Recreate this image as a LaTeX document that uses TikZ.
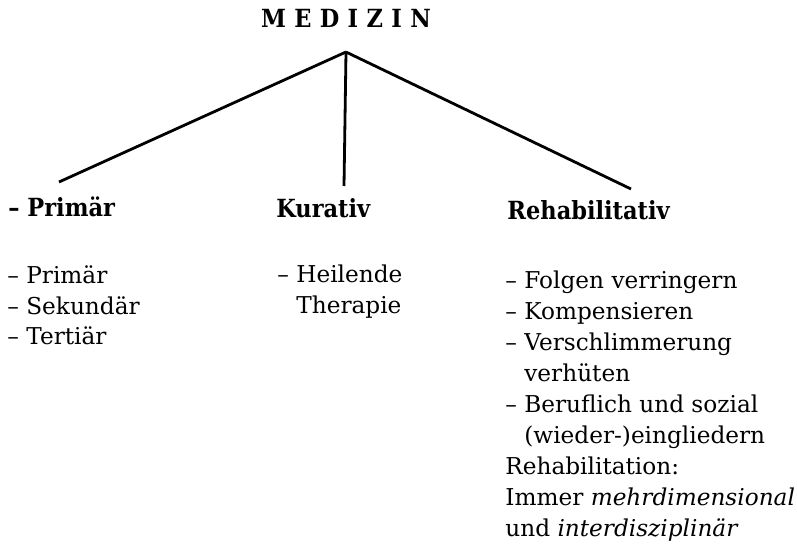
\documentclass[tikz,border=0pt]{standalone}
\usepackage{fontspec}
\setmainfont{DejaVu Serif}
\newfontfamily\headfont{DejaVu Serif Condensed}

\begin{document}
\begin{tikzpicture}[x=0.5pt,y=-0.5pt,
  head/.style={font=\headfont\bfseries\fontsize{12.5}{15}\selectfont,anchor=base west,inner sep=0pt},
  body/.style={font=\fontsize{11.6}{15.5}\selectfont,anchor=base west,inner sep=0pt,align=left},
  branch/.style={line width=1.4pt}]
  \useasboundingbox (0,0) rectangle (797,550);

  \node (medizin) at (346,18) [font=\headfont\bfseries\fontsize{12.5}{14}\selectfont]
    {M\kern4.2pt E\kern4.2pt D\kern4.2pt I\kern4.2pt Z\kern4.2pt I\kern4.2pt N};

  \coordinate (apex) at (346,52);
  \coordinate (endpraev) at (59,182);
  \coordinate (endkur) at (344,186);
  \coordinate (endreha) at (631,189);
  \draw[branch] (apex) -- (endpraev);
  \draw[branch] (apex) -- (endkur);
  \draw[branch] (apex) -- (endreha);

  \node (praev) at (8,217) [head] {– Primär};
  \node (kur) at (276,218) [head] {Kurativ};
  \node (reha) at (507,220) [head] {Rehabilitativ};

  % lists: anchored at the baseline of their last line
  \node (praevlist) at (7,345) [body] {– Primär\\– Sekundär\\– Tertiär};
  \node (kurlist) at (277,314) [body] {– Heilende\\\hphantom{– }Therapie};
  \node (rehalist) at (505,536) [body]
    {– Folgen verringern\\– Kompensieren\\– Verschlimmerung\\\hphantom{– }verhüten\\
     – Beruflich und sozial\\\hphantom{– }(wieder-)eingliedern\\Rehabilitation:\\
     Immer \textit{mehrdimensional}\\und \textit{interdisziplinär}};
\end{tikzpicture}
\end{document}
